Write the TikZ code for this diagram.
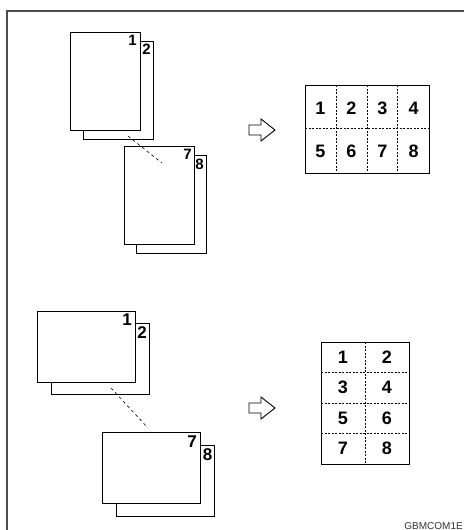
\documentclass[tikz,border=0pt]{standalone}
\usepackage{fontspec}
\setmainfont{Liberation Sans}
\usetikzlibrary{calc}

\begin{document}
\begin{tikzpicture}[
  x=1pt,y=-1pt,
  sheet/.style={draw,fill=white,line width=.8pt,inner sep=0pt,outer sep=0pt},
  portrait/.style={sheet,minimum width=70pt,minimum height=98pt},
  landscape/.style={sheet,minimum width=98pt,minimum height=71pt},
  pnum/.style={font=\bfseries\fontsize{#1}{#1}\selectfont,inner sep=0pt,anchor=north east},
  pnum/.default=15,
  cellnum/.style={font=\bfseries\fontsize{18}{18}\selectfont,inner sep=0pt},
  fold/.style={line width=.6pt,dash pattern=on 3pt off 3pt},
  cut/.style={line width=.6pt,dash pattern=on 2pt off 1.5pt},
  goesto/.style={draw,line width=.9pt,fill=white}
]
  \useasboundingbox (0,0) rectangle (464,530);
  % frame
  \draw[gray!60!black,line width=1.6pt] (7,530) -- (7,11) -- (464,11);

  % portrait originals
  \node[portrait] (p1b) at (118,90) {};
  \node[portrait] (p1f) at (105,81) {};
  \node[pnum] at ($(p1f.north east)+(-3,3)$) {1};
  \node[pnum] at ($(p1b.north east)+(-2,3)$) {2};
  \coordinate (t1) at (128,136);
  \coordinate (t2) at (162,163);
  \node[portrait] (p8b) at (171,204.5) {};
  \node[portrait] (p7f) at (159,195) {};
  \node[pnum] at ($(p7f.north east)+(-2,3)$) {7};
  \node[pnum] at ($(p8b.north east)+(-2,3)$) {8};
  \draw[fold] (t1) -- (t2);

  % landscape originals
  \node[landscape] (l1b) at (100,359) {};
  \node[landscape] (l1f) at (86,346.5) {};
  \node[pnum=17] at ($(l1f.north east)+(-3,3)$) {1};
  \node[pnum=17] at ($(l1b.north east)+(-2,3)$) {2};
  \coordinate (b1) at (111,388);
  \coordinate (b2) at (148,428);
  \node[landscape] (l8b) at (165.5,480.5) {};
  \node[landscape] (l7f) at (151,468) {};
  \node[pnum=17] at ($(l7f.north east)+(-3,3)$) {7};
  \node[pnum=17] at ($(l8b.north east)+(-2,3)$) {8};
  \draw[fold] (b1) -- (b2);

  % arrows
  \foreach \y/\name in {130/a1,408/a2} {
    \draw[goesto] (249,\y-5) -- (261,\y-5) -- (261,\y-11) -- (275,\y)
      -- (261,\y+11) -- (261,\y+5) -- (249,\y+5) -- cycle;
    \coordinate (\name) at (261.5,\y);
  }

  % 8 up on one sheet, portrait
  \foreach \x in {336,367,397} \draw[cut] (\x,85) -- (\x,173);
  \draw[cut] (305,128) -- (429,128);
  \draw[line width=1pt] (305,85) rectangle (429,173);
  \foreach \n [count=\i from 0] in {1,...,8} {
    \pgfmathsetmacro\cx{320.5+31*mod(\i,4)}
    \pgfmathsetmacro\cy{int(\i/4)==0 ? 108 : 151}
    \node[cellnum] (t\n) at (\cx,\cy) {\n};
  }

  % 8 up on one sheet, landscape
  \draw[cut] (365,342) -- (365,464);
  \foreach \y in {372.5,403,433.5} \draw[cut] (321,\y) -- (409,\y);
  \draw[line width=1pt] (321,342) rectangle (409,464);
  \foreach \n [count=\i from 0] in {1,...,8} {
    \pgfmathsetmacro\cx{343+44*mod(\i,2)}
    \pgfmathsetmacro\cy{357.25+30.5*int(\i/2)}
    \node[cellnum] (b\n) at (\cx,\cy) {\n};
  }

  \node[anchor=base east,inner sep=0pt,text=black!80,font=\fontsize{10}{10}\selectfont]
    (code) at (463,529) {GBMCOM1E};
\end{tikzpicture}
\end{document}
